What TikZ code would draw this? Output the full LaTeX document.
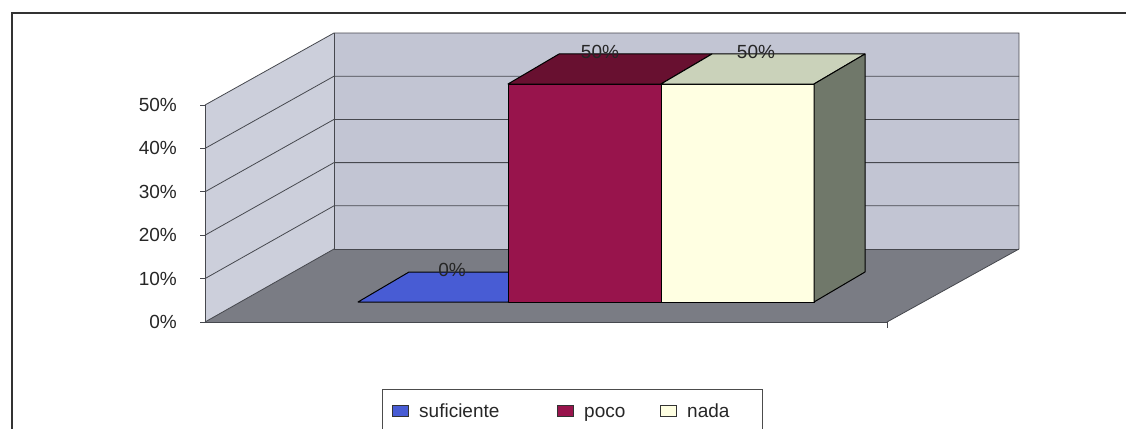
\documentclass[tikz,border=0pt]{standalone}
\usepackage{fontspec}
\setmainfont{Liberation Sans}
\usetikzlibrary{positioning}
\definecolor{wallback}{RGB}{194,197,211}
\definecolor{wallleft}{RGB}{204,207,219}
\definecolor{floorgray}{RGB}{122,124,132}
\definecolor{edgegray}{RGB}{70,72,78}
\definecolor{sufblue}{RGB}{72,92,212}
\definecolor{pocored}{RGB}{152,20,76}
\definecolor{pocotop}{RGB}{104,16,48}
\definecolor{nadacream}{RGB}{255,255,226}
\definecolor{nadatop}{RGB}{202,210,186}
\definecolor{nadaside}{RGB}{112,120,106}
\tikzset{every node/.style={font=\fontsize{19}{21}\selectfont}}

\begin{document}
\begin{tikzpicture}[x=1pt,y=-1pt,
  every node/.style={inner sep=1pt, font=\fontsize{19}{21}\selectfont, text=black!85},
  wall/.style={draw=edgegray, line width=0.8pt},
  gridline/.style={draw=edgegray, line width=0.8pt},
  bar/.style={draw=black, line width=1pt, line join=round},
  swatch/.style={draw=black!80, minimum width=16pt, minimum height=11pt, inner sep=0pt}
% the 3d box: front plane, depth offset (129,-73)
]
\useasboundingbox (0,0) rectangle (1126,428);
\draw[line width=1.6pt, black!80] (12,440) -- (12,13) -- (1140,13);

\coordinate (fl) at (205,322);
\coordinate (ft) at (205,105);
\coordinate (bl) at (334,249);
\coordinate (tl) at (334,33);
\coordinate (tr) at (1019,33);
\coordinate (br) at (1019,249);
\coordinate (fr) at (887,322);

% walls and floor
\fill[wallleft] (fl) -- (ft) -- (tl) -- (bl) -- cycle;
\fill[wallback] (bl) -- (tl) -- (tr) -- (br) -- cycle;
\fill[floorgray] (fl) -- (bl) -- (br) -- (fr) -- cycle;
\foreach \i in {1,...,4}{
  \draw[gridline] (205,322-43.4*\i) -- (334,249-43.2*\i) -- (1019,249-43.2*\i);
}
\draw[wall] (ft) -- (tl) -- (tr) -- (br);
\draw[wall] (tl) -- (bl) -- (br);
\draw[wall] (fl) -- (bl);
\draw[wall] (br) -- (fr);
\draw[wall] (ft) -- (fl) -- (fr) -- ++(0,6);

% axis
\foreach \i/\t in {0/0\%,1/10\%,2/20\%,3/30\%,4/40\%,5/50\%}{
  \draw[gridline] (200,322-43.4*\i) -- (205,322-43.4*\i);
  \path (178,322-43.4*\i) node[anchor=east] (y\i) {\t};
}

% bars
\filldraw[bar, fill=sufblue] (358,302) -- (508,302) -- (559,272) -- (409,272) -- cycle;
\filldraw[bar, fill=pocored] (508,84) rectangle (661,302);
\filldraw[bar, fill=pocotop] (508,84) -- (661,84) -- (712,54) -- (559,54) -- cycle;
\filldraw[bar, fill=nadacream] (661,84) rectangle (814,302);
\filldraw[bar, fill=nadatop] (661,84) -- (814,84) -- (865,54) -- (712,54) -- cycle;
\filldraw[bar, fill=nadaside] (814,84) -- (865,54) -- (865,272) -- (814,302) -- cycle;

\path (452,270) node (lblsuf) {0\%};
\path (600,52) node (lblpoco) {50\%};
\path (756,52) node (lblnada) {50\%};

% legend
\draw[black!70, line width=0.8pt] (382,440) -- (382,389) -- (762,389) -- (762,440);
\node[swatch, fill=sufblue] (swsuf) at (400,411) {};
\node[swatch, fill=pocored] (swpoco) at (565,411) {};
\node[swatch, fill=nadacream] (swnada) at (668,411) {};
\path (418,417) node[anchor=base west] (txtsuf) {suficiente};
\path (583,417) node[anchor=base west] (txtpoco) {poco};
\path (686,417) node[anchor=base west] (txtnada) {nada};
\end{tikzpicture}
\end{document}
